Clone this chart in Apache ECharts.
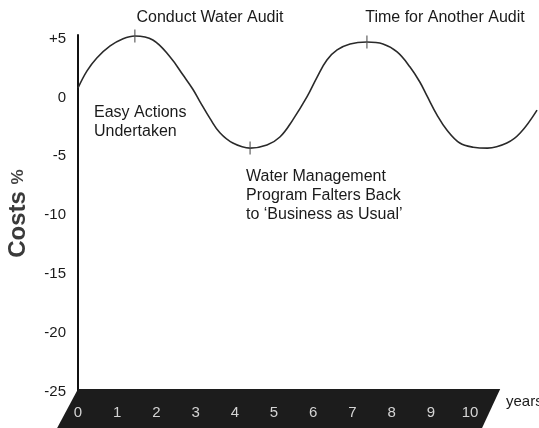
<!DOCTYPE html>
<html>
<head>
<meta charset="utf-8">
<script src="https://cdn.jsdelivr.net/npm/echarts@6/dist/echarts.min.js"></script>
<style>
html,body{margin:0;padding:0;background:#fff;}
#chart{width:539px;height:428px;}
</style>
</head>
<body>
<div id="chart"></div>
<script>
// ---- data ----
const years = [0, 0.23, 0.48, 0.82, 1.15, 1.45, 1.91, 2.35, 2.68, 2.93, 3.11, 3.37, 3.62, 3.95, 4.39, 4.82, 5.15, 5.48, 5.84, 6.10, 6.35, 6.61, 6.94, 7.37, 7.78, 8.14, 8.47, 8.72, 8.90, 9.16, 9.41, 9.74, 10.08, 10.45, 10.94, 11.28, 11.71];
const costs = [0.8, 2.25, 3.35, 4.37, 4.98, 5.22, 4.88, 3.43, 1.9, 0.7, -0.35, -1.8, -3.0, -3.87, -4.3, -4.04, -3.36, -1.9, 0.04, 1.73, 3.18, 4.03, 4.54, 4.7, 4.54, 3.86, 2.58, 1.31, 0.15, -1.5, -2.76, -3.87, -4.22, -4.3, -3.87, -3.02, -1.07];
const markerYears = [1.45, 4.39, 7.37];
const markerCosts = [5.22, -4.3, 4.7];
const xTickLabels = ['0','1','2','3','4','5','6','7','8','9','10'];
const yTickValues = [-25, -20, -15, -10, -5, 0, 5];
const yTickLabels = ['-25', '-20', '-15', '-10', '-5', '0', '+5'];
const annotations = [
  {text: 'Conduct Water Audit', x: 210, y: 18, align: 'center'},
  {text: 'Time for Another Audit', x: 445, y: 18, align: 'center'},
  {text: 'Easy Actions\nUndertaken', x: 94, y: 122, align: 'left'},
  {text: 'Water Management\nProgram Falters Back\nto \u2018Business as Usual\u2019', x: 246, y: 196, align: 'left'}
];
const xAxisName = 'years';
const bandEndYear = 10.77;

const FONT = '"Liberation Sans", Arial, sans-serif';
const chart = echarts.init(document.getElementById('chart'), null, {renderer: 'canvas'});

const curve = years.map((y, i) => [y, costs[i]]);
const markers = markerYears.map((y, i) => [y, markerCosts[i]]);

chart.setOption({
  backgroundColor: '#ffffff',
  animation: false,
  grid: {left: 78, right: 0, top: 35, bottom: 36, containLabel: false, outerBoundsMode: 'none'},
  xAxis: {
    type: 'value', min: 0, max: 11.76, interval: 1, z: 10,
    axisLine: {show: false}, axisTick: {show: false}, splitLine: {show: false},
    axisLabel: {
      margin: 13, color: '#d4d4d4', fontSize: 15, fontFamily: FONT,
      formatter: v => (Number.isInteger(v) && v >= 0 && v < xTickLabels.length) ? xTickLabels[v] : ''
    }
  },
  yAxis: {
    type: 'value', min: -25, max: 5.3, interval: 5,
    axisLine: {show: true, lineStyle: {color: '#111', width: 2}},
    axisTick: {show: false}, splitLine: {show: false},
    axisLabel: {
      margin: 12, color: '#1a1a1a', fontSize: 15, fontFamily: FONT,
      formatter: v => { const i = yTickValues.indexOf(v); return i >= 0 ? yTickLabels[i] : ''; }
    },
    name: '{b|Costs}  {a|%}',
    nameLocation: 'middle', nameRotate: 90, nameGap: 48,
    nameTextStyle: {
      rich: {
        a: {fontSize: 17, fontWeight: 'bold', color: '#444', fontFamily: FONT},
        b: {fontSize: 24, fontWeight: 'bold', color: '#3a3a3a', fontFamily: FONT}
      }
    }
  },
  graphic: annotations.map(a => ({
    type: 'text', x: a.x, y: a.y,
    style: {
      text: a.text, fill: '#1a1a1a', font: '16px ' + FONT, lineHeight: 19,
      textAlign: a.align, textVerticalAlign: 'middle'
    }
  })).concat([{
    type: 'text', x: 506, y: 402,
    style: {text: xAxisName, fill: '#1a1a1a', font: '15px ' + FONT, textVerticalAlign: 'middle'}
  }]),
  series: [
    {
      type: 'custom', z: 1, silent: true, clip: false,
      data: [[0, -25]],
      renderItem: function (params, api) {
        const p0 = api.coord([0, -25]);
        const p1 = api.coord([bandEndYear, -25]);
        const h = 40;
        return {
          type: 'polygon',
          shape: {points: [[p0[0], p0[1] - 3], [p1[0], p1[1] - 3], [p1[0] - 20, p1[1] + h], [p0[0] - 23, p0[1] + h]]},
          style: {fill: '#1c1c1c'}
        };
      }
    },
    {
      type: 'line', data: curve, smooth: 0.4, symbol: 'none', z: 3,
      lineStyle: {color: '#2a2a2a', width: 1.6}
    },
    {
      type: 'scatter', data: markers, z: 4,
      symbol: 'rect', symbolSize: [1.4, 13],
      itemStyle: {color: '#555'}
    }
  ]
});
</script>
</body>
</html>
